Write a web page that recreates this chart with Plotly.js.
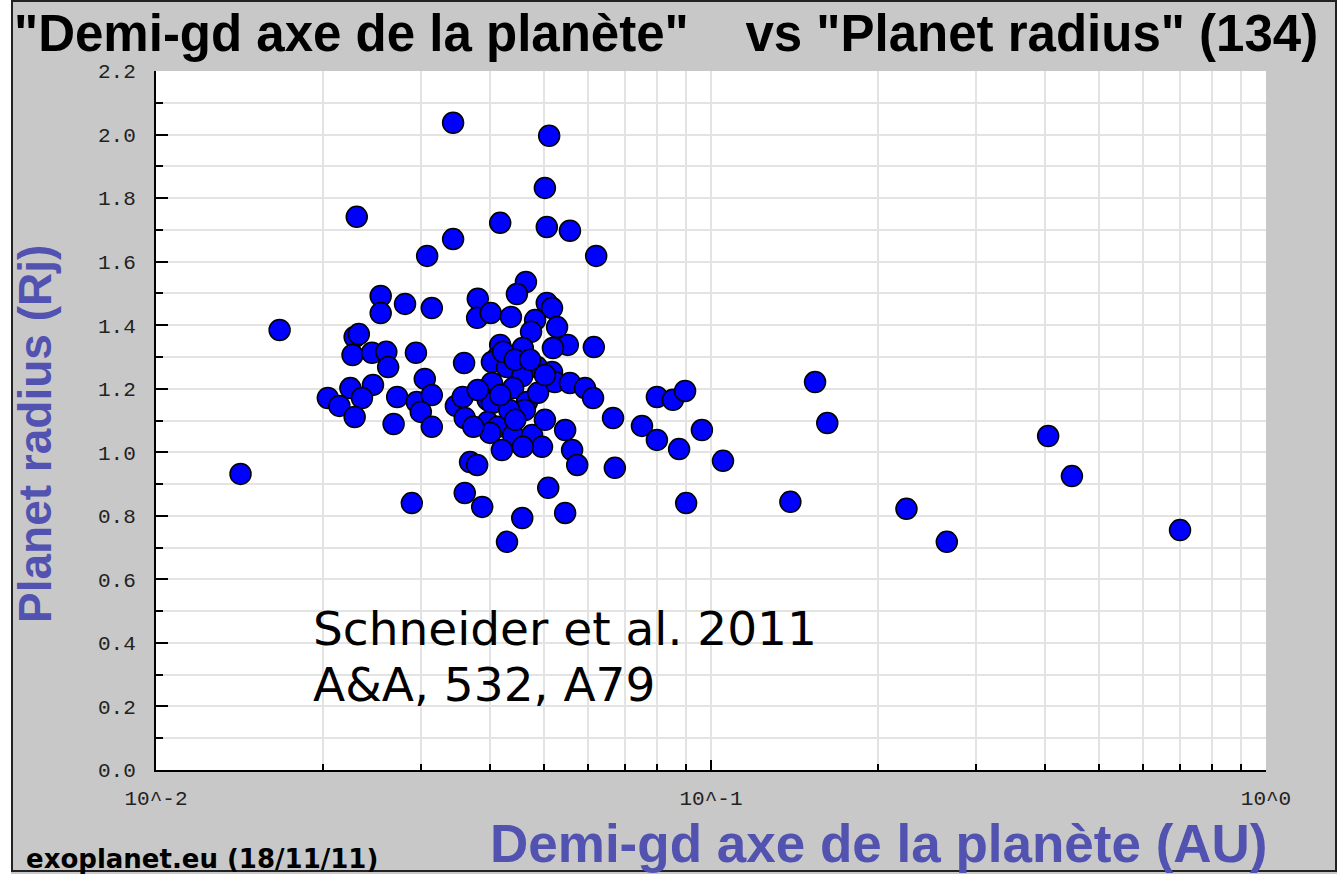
<!DOCTYPE html>
<html>
<head>
<meta charset="utf-8">
<script src="https://cdn.plot.ly/plotly-3.0.1.min.js"></script>
<style>html,body{margin:0;padding:0;background:#fff;}#chart{width:1342px;height:874px;}</style>
</head>
<body>
<div id="chart"></div>
<script>
// Semi-major axis (AU)
var semiMajorAxis = [
 0.0142,0.0167,0.0343,0.0511,0.0502,0.0230,0.0417,0.0506,0.0557,0.0343,
 0.0308,0.0621,0.0464,0.0447,0.0254,0.0254,0.0281,0.0314,0.0380,0.0379,
 0.0401,0.0436,0.0506,0.0517,0.0482,0.0528,0.0474,0.0615,0.0552,0.0519,
 0.0228,0.0232,0.0226,0.0245,0.0260,0.0262,0.0294,0.0359,0.0305,0.0204,
 0.0224,0.0246,0.0235,0.0214,0.0228,0.0272,0.0295,0.0314,0.0300,0.0314,
 0.0268,0.0347,0.0357,0.0360,0.0417,0.0458,0.0413,0.0403,0.0429,0.0486,
 0.0517,0.0457,0.0403,0.0440,0.0523,0.0557,0.0593,0.0613,0.0396,0.0466,
 0.0488,0.0403,0.0462,0.0396,0.0413,0.0400,0.0440,0.0476,0.0496,0.0458,
 0.0420,0.0546,0.0562,0.0574,0.0368,0.0379,0.0666,0.0671,0.0509,0.0360,
 0.0387,0.0457,0.0546,0.0429,0.0289,0.0799,0.0854,0.0898,0.0751,0.0799,
 0.0876,0.0963,0.1051,0.0902,0.139,0.154,0.162,0.225,0.266,0.405,
 0.447,0.700,0.0433,0.0373,0.0422,0.0443,0.0472,0.0502,0.0417,0.0444,
 0.0380,0.0502
];
// Planet radius (Rj)
var planetRadius = [
 0.932,1.385,2.037,1.996,1.832,1.741,1.722,1.709,1.697,1.671,
 1.618,1.618,1.536,1.498,1.492,1.438,1.467,1.454,1.483,1.423,
 1.438,1.426,1.470,1.454,1.416,1.394,1.379,1.331,1.338,1.328,
 1.363,1.372,1.306,1.313,1.316,1.268,1.313,1.281,1.231,1.171,
 1.202,1.212,1.171,1.146,1.111,1.174,1.158,1.180,1.127,1.080,
 1.089,1.146,1.174,1.108,1.338,1.328,1.300,1.284,1.268,1.268,
 1.253,1.240,1.218,1.202,1.221,1.218,1.202,1.171,1.165,1.158,
 1.187,1.155,1.133,1.095,1.080,1.061,1.054,1.054,1.017,1.017,
 1.007,1.070,1.007,0.960,0.969,0.960,1.108,0.951,0.888,0.872,
 0.828,0.793,0.809,0.718,0.840,1.174,1.165,1.193,1.083,1.039,
 1.010,1.070,0.973,0.840,0.844,1.221,1.092,0.822,0.718,1.051,
 0.925,0.755,1.133,1.080,1.316,1.291,1.291,1.243,1.180,1.102,
 1.196,1.102
];
var xTickVals = [0.01, 0.1, 1];
var xTickText = ["10^-2", "10^-1", "10^0"];
var xMinorVals = [0.02,0.03,0.04,0.05,0.06,0.07,0.08,0.09,0.2,0.3,0.4,0.5,0.6,0.7,0.8,0.9];

var titleText = '"Demi-gd axe de la planète"\u00a0\u00a0\u00a0 vs "Planet radius" (134)';
var xTitleText = "Demi-gd axe de la planète (AU)";
var yTitleText = "Planet radius (Rj)";
var footerText = "exoplanet.eu (18/11/11)";
var refLine1 = "Schneider et al. 2011";
var refLine2 = "A&amp;A, 532, A79";

// layout helpers: pixel -> paper coordinates (plot area 156..1266 x, 71..770 y)
var L = 156, R = 1266, T = 71, B = 770;
function px(x){ return (x - L) / (R - L); }
function py(y){ return (B - y) / (B - T); }

var gridColor = "#e3e3e3";
var blueTitle = "#5252b0";

var trace = {
  type: "scatter", mode: "markers",
  x: semiMajorAxis, y: planetRadius,
  marker: {color: "#0000ff", size: 21, line: {color: "#000", width: 1.5}},
  hoverinfo: "x+y"
};

var layout = {
  width: 1342, height: 874,
  margin: {l: L, r: 1342 - R, t: T, b: 874 - B, pad: 0},
  paper_bgcolor: "#c8c8c8",
  plot_bgcolor: "#ffffff",
  showlegend: false,
  title: {
    text: titleText,
    font: {family: "Liberation Sans, Arial, sans-serif", size: 51, color: "#000", weight: "bold"},
    x: 14/1342, xanchor: "left", xref: "container",
    y: 1 - 33/874, yanchor: "middle", yref: "container"
  },
  xaxis: {
    type: "log", range: [-2, 0],
    tickmode: "array", tickvals: xTickVals, ticktext: xTickText,
    ticks: "inside", ticklen: 10, tickwidth: 2, tickcolor: "#000",
    showline: true, linecolor: "#000", linewidth: 2,
    showgrid: true, gridcolor: gridColor, gridwidth: 2,
    zeroline: false, ticklabelstandoff: 8,
    tickfont: {family: "Liberation Mono, monospace", size: 21, color: "#222"},
    minor: {tickmode: "array", tickvals: xMinorVals, ticks: "inside", ticklen: 6, tickwidth: 2, tickcolor: "#000",
            showgrid: true, gridcolor: gridColor, gridwidth: 2},
    fixedrange: true
  },
  yaxis: {
    range: [0, 2.2], tick0: 0, dtick: 0.2, tickformat: ".1f",
    ticks: "inside", ticklen: 12, tickwidth: 2, tickcolor: "#000",
    showline: true, linecolor: "#000", linewidth: 2,
    showgrid: true, gridcolor: gridColor, gridwidth: 2,
    zeroline: false, ticklabelstandoff: 14,
    tickfont: {family: "Liberation Mono, monospace", size: 21, color: "#222"},
    minor: {dtick: 0.1, ticks: "inside", ticklen: 7, tickwidth: 2, tickcolor: "#000",
            showgrid: true, gridcolor: gridColor, gridwidth: 2},
    fixedrange: true
  },
  shapes: [
    {type: "rect", xref: "paper", yref: "paper", x0: px(0), x1: px(11), y0: py(0), y1: py(874),
     fillcolor: "#ffffff", line: {width: 0}},
    {type: "rect", xref: "paper", yref: "paper", x0: px(1337), x1: px(1342), y0: py(0), y1: py(874),
     fillcolor: "#ffffff", line: {width: 0}},
    {type: "rect", xref: "paper", yref: "paper", x0: px(12), x1: px(1336), y0: py(1), y1: py(871),
     fillcolor: "rgba(0,0,0,0)", line: {color: "#222", width: 2}}
  ],
  annotations: [
    {text: xTitleText, xref: "paper", yref: "paper", x: px(1270), y: py(843), xanchor: "right", yanchor: "middle",
     showarrow: false, font: {family: "Liberation Sans, Arial, sans-serif", size: 53, color: blueTitle, weight: "bold"}},
    {text: yTitleText, xref: "paper", yref: "paper", x: px(35), y: py(434), xanchor: "center", yanchor: "middle",
     textangle: -90, showarrow: false, font: {family: "Liberation Sans, Arial, sans-serif", size: 46, color: blueTitle, weight: "bold"}},
    {text: footerText, xref: "paper", yref: "paper", x: px(24), y: py(859), xanchor: "left", yanchor: "middle",
     showarrow: false, font: {family: "DejaVu Sans, sans-serif", size: 26, color: "#000", weight: "bold"}},
    {text: refLine1, xref: "paper", yref: "paper", x: px(311), y: py(628), xanchor: "left", yanchor: "middle",
     showarrow: false, font: {family: "DejaVu Sans, sans-serif", size: 47, color: "#000"}},
    {text: refLine2, xref: "paper", yref: "paper", x: px(311), y: py(684), xanchor: "left", yanchor: "middle",
     showarrow: false, font: {family: "DejaVu Sans, sans-serif", size: 47, color: "#000"}}
  ]
};

Plotly.newPlot("chart", [trace], layout, {displayModeBar: false, staticPlot: true});
</script>
</body>
</html>
